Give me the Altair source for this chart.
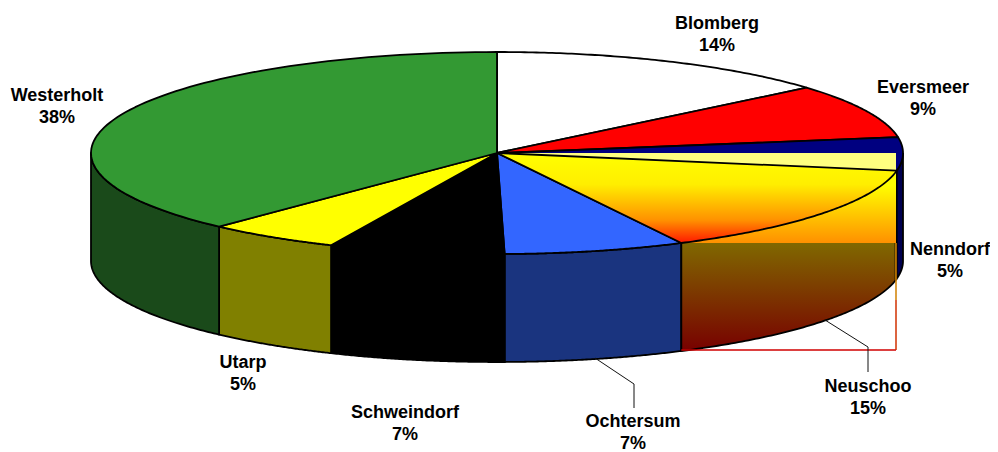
import numpy as np
import pandas as pd
import altair as alt

# ---- values ----
names = ["Blomberg", "Eversmeer", "Nenndorf", "Neuschoo", "Ochtersum", "Schweindorf", "Utarp", "Westerholt"]
shares = [13.8, 8.7, 5.3, 14.7, 7.2, 7.0, 5.3, 38.0]
labels = ["14%", "9%", "5%", "15%", "7%", "7%", "5%", "38%"]

top_colors = ["#ffffff", "#ff0000", "#000080", None, "#3366ff", "#000000", "#ffff00", "#339933"]
side_colors = ["#808080", "#800000", "#000050", None, "#1a347f", "#000000", "#808000", "#1a4a1a"]

# ---- layout of the drawing (page pixels) ----
CX, CY, RX, RY, DEPTH = 497, 153, 406, 101, 108
SPLIT_Y = 243
BOX_X = 896
BOX_Y = 350
label_pos = {
    "Blomberg": (717, 24), "Eversmeer": (923, 88), "Nenndorf": (950, 250), "Neuschoo": (868, 387),
    "Ochtersum": (633, 422), "Schweindorf": (405, 413), "Utarp": (243, 363), "Westerholt": (57, 96),
}
leaders = [[(595, 358), (634, 384), (634, 408)], [(825, 320), (868, 347), (868, 372)]]

xs = alt.Scale(domain=[8, 990], nice=False, zero=False)
ys = alt.Scale(domain=[452, 8], nice=False, zero=False)


def arc(t0, t1, dy=0.0, n=90):
    t = np.radians(np.linspace(t0, t1, n))
    return list(zip(CX + RX * np.sin(t), CY - RY * np.cos(t) + dy))


def poly(points, fill=None, stroke=None, width=1.8):
    df = pd.DataFrame(points, columns=["x", "y"])
    df["i"] = range(len(df))
    kw = {"strokeWidth": width, "interpolate": "linear", "strokeJoin": "round", "clip": False}
    kw["stroke"] = stroke if stroke else "transparent"
    if fill is not None:
        kw["fill"] = fill
    return alt.Chart(df).mark_line(**kw).encode(
        x=alt.X("x:Q", scale=xs, axis=None),
        y=alt.Y("y:Q", scale=ys, axis=None),
        order="i:Q",
    )


def grad(stops):
    return alt.Gradient(
        gradient="linear", x1=0, y1=0, x2=0, y2=1,
        stops=[alt.GradientStop(offset=o, color=c) for o, c in stops],
    )


# slice angles derived from the shares
edges = np.concatenate([[0], np.cumsum(shares)]) * 3.6
layers = []
center = [(CX, CY)]

# front walls
for k, c in enumerate(side_colors):
    a0, a1 = max(edges[k], 90), min(edges[k + 1], 270)
    if a1 <= a0 or c is None:
        continue
    pts = arc(a0, a1) + arc(a1, a0, DEPTH)
    pts.append(pts[0])
    layers.append(poly(pts, fill=c, stroke="#000000"))

# tops
for k, c in enumerate(top_colors):
    if c is None:
        continue
    pts = center + arc(edges[k], edges[k + 1]) + center
    layers.append(poly(pts, fill=c, stroke="#000000"))

# Neuschoo slice with its gradient box
a0, a1 = edges[3], edges[4]
pale_end = arc(a0, a0, n=1)[0]
layers.append(poly(center + [(BOX_X, CY), (BOX_X, pale_end[1])] + center, fill="#ffff80"))

wall_top = arc(a1, a0)
upper = [(wall_top[0][0], SPLIT_Y)] + wall_top + [(BOX_X, pale_end[1]), (BOX_X, SPLIT_Y)]
layers.append(poly(upper + [upper[0]],
                   fill=grad([(0, "#ffff00"), (0.2, "#ffff00"), (1, "#ff9000")])))

low_arc = arc(a1, a0, DEPTH)
low_arc = [p for p in low_arc if p[0] <= BOX_X]
lower = [(low_arc[0][0], SPLIT_Y), (BOX_X, SPLIT_Y)] + low_arc[::-1]
layers.append(poly(lower + [lower[0]], fill=grad([(0, "#806800"), (1, "#780000")])))

layers.append(poly(center + arc(a0, a1) + center,
                   fill=grad([(0, "#ffff00"), (0.35, "#ffee00"), (0.75, "#ff9000"), (1, "#ff1800")])))

# outlines on top of the gradient areas
layers.append(poly(center + arc(a0, a1) + center, stroke="#000000"))
layers.append(poly(arc(a0, a1, DEPTH), stroke="#000000"))
layers.append(poly([(wall_top[0][0], wall_top[0][1]), (wall_top[0][0], wall_top[0][1] + DEPTH)], stroke="#000000"))
layers.append(poly([(BOX_X - 1, SPLIT_Y), (BOX_X - 1, low_arc[-1][1])], stroke="#2a2000", width=1))

# gradient box outline below the pie
layers.append(poly([(wall_top[0][0], BOX_Y), (BOX_X, BOX_Y)], stroke="#d00000", width=1.5))
layers.append(poly([(BOX_X, SPLIT_Y), (BOX_X, 300)], stroke="#d08000", width=1.5))
layers.append(poly([(BOX_X, 300), (BOX_X, BOX_Y)], stroke="#d03000", width=1.5))

# leader lines
for pts in leaders:
    layers.append(poly(pts, stroke="#111111", width=1))

# labels
for name, lab in zip(names, labels):
    px, py = label_pos[name]
    lf = pd.DataFrame({"x": [px], "y": [py], "t": [name + "\n" + lab]})
    layers.append(
        alt.Chart(lf).mark_text(
            font="Liberation Sans", fontWeight="bold", fontSize=18, color="#000000",
            lineBreak="\n", lineHeight=22, align="center", baseline="middle",
        ).encode(
            x=alt.X("x:Q", scale=xs, axis=None),
            y=alt.Y("y:Q", scale=ys, axis=None),
            text="t:N",
        )
    )

chart = alt.layer(*layers).properties(
    width=982, height=444, padding=0, background="#ffffff",
    autosize=alt.AutoSizeParams(type="none"),
).configure_view(stroke=None)

chart.save("out.html", embed_options={"renderer": "svg", "actions": False})
